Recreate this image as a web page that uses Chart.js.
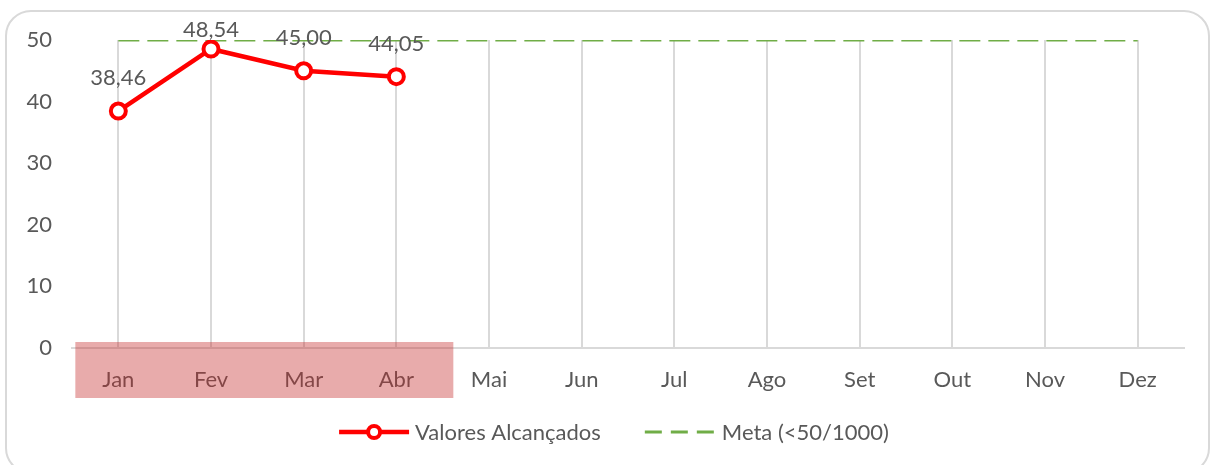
<!DOCTYPE html>
<html>
<head>
<meta charset="utf-8">
<script src="https://cdn.jsdelivr.net/npm/chart.js@4"></script>
<style>
  html, body { margin: 0; padding: 0; background: #fff; }
  #wrap { position: relative; width: 1211px; height: 465px; overflow: hidden; }
  #frame { position: absolute; left: 5px; top: 10px; width: 1201px; height: 460px;
           border: 2px solid #D9D9D9; border-radius: 26px; }
  canvas { position: absolute; left: 0; top: 0; }
</style>
</head>
<body>
<div id="wrap">
  <div id="frame"></div>
  <canvas id="chart" width="1211" height="465"></canvas>
</div>
<script>
// dados do gráfico
const meses = ["Jan", "Fev", "Mar", "Abr", "Mai", "Jun", "Jul", "Ago", "Set", "Out", "Nov", "Dez"];
const valores = [38.46, 48.54, 45.00, 44.05, null, null, null, null, null, null, null, null];
const meta = [50, 50, 50, 50, 50, 50, 50, 50, 50, 50, 50, 50];
const yTicks = [0, 10, 20, 30, 40, 50];
const destaque = ["Jan", "Abr"]; // meses marcados em vermelho

const fonte = "Lato";
const cinza = "#595959";
const tam = 22;

function fmt(v) {
    return v.toFixed(2).replace('.', ',');
}

// rótulos de dados acima dos pontos
const rotulos = {
    id: 'rotulos',
    afterDatasetsDraw(chart) {
        const ctx = chart.ctx;
        const meta0 = chart.getDatasetMeta(0);
        ctx.save();
        ctx.font = tam + "px " + fonte;
        ctx.fillStyle = cinza;
        ctx.textAlign = 'center';
        ctx.textBaseline = 'middle';
        meta0.data.forEach((pt, i) => {
            const v = valores[i];
            if (v === null) return;
            ctx.fillText(fmt(v), pt.x, Math.max(pt.y - 33, 30));
        });
        ctx.restore();
    }
};

// retângulo vermelho sobre os meses
const marca = {
    id: 'marca',
    afterDraw(chart) {
        const x = chart.scales.x;
        const ctx = chart.ctx;
        const a = x.getPixelForValue(meses.indexOf(destaque[0]));
        const b = x.getPixelForValue(meses.indexOf(destaque[1]));
        const bottom = chart.chartArea.bottom;
        ctx.save();
        ctx.fillStyle = 'rgba(197,45,45,0.4)';
        ctx.fillRect(a - 43, bottom - 6, (b + 57) - (a - 43), 56);
        ctx.restore();
    }
};

// legenda desenhada à mão
const legenda = {
    id: 'legenda',
    afterDraw(chart) {
        const ctx = chart.ctx;
        const ds = chart.data.datasets;
        ctx.save();
        ctx.font = tam + "px " + fonte;
        ctx.textBaseline = 'middle';
        const y = 432;
        const w1 = ctx.measureText(ds[0].label).width;
        const w2 = ctx.measureText(ds[1].label).width;
        const total = 70 + 6 + w1 + 44 + 69 + 8 + w2;
        let x = 614 - total / 2;
        // serie 1
        ctx.strokeStyle = ds[0].borderColor;
        ctx.lineWidth = 4.5;
        ctx.beginPath(); ctx.moveTo(x, y); ctx.lineTo(x + 70, y); ctx.stroke();
        ctx.beginPath(); ctx.arc(x + 35, y, 6, 0, Math.PI * 2);
        ctx.fillStyle = '#fff'; ctx.fill();
        ctx.lineWidth = 4; ctx.stroke();
        x += 70 + 6;
        ctx.fillStyle = cinza;
        ctx.fillText(ds[0].label, x, y + 1);
        x += w1 + 44;
        // serie 2
        ctx.strokeStyle = ds[1].borderColor;
        ctx.lineWidth = 3;
        ctx.setLineDash([17, 9]);
        ctx.beginPath(); ctx.moveTo(x, y); ctx.lineTo(x + 69, y); ctx.stroke();
        ctx.setLineDash([]);
        x += 69 + 8;
        ctx.fillText(ds[1].label, x, y + 1);
        ctx.restore();
    }
};

new Chart(document.getElementById('chart'), {
    type: 'line',
    data: {
        labels: meses,
        datasets: [{
            label: 'Valores Alcançados',
            data: valores,
            borderColor: '#FF0000',
            borderWidth: 4.5,
            pointRadius: 7.5,
            pointBorderWidth: 4,
            pointBackgroundColor: '#FFFFFF',
            pointBorderColor: '#FF0000',
            tension: 0,
            order: 0
        }, {
            label: 'Meta (<50/1000)',
            data: meta,
            borderColor: '#70AD47',
            borderWidth: 3,
            borderDash: [21, 8],
            pointRadius: 0,
            tension: 0,
            order: 1
        }]
    },
    options: {
        responsive: false,
        animation: false,
        layout: { padding: { top: 40, right: 27, left: 0, bottom: 0 } },
        plugins: {
            legend: { display: false },
            tooltip: { enabled: false }
        },
        scales: {
            x: {
                offset: true,
                grid: { color: '#D9D9D9', lineWidth: 2, drawTicks: false, offset: false },
                border: { color: '#D9D9D9', width: 2 },
                ticks: { color: cinza, font: { family: fonte, size: tam }, padding: 19, maxRotation: 0 },
                afterFit(s) { s.height = 117; }
            },
            y: {
                min: 0,
                max: 50,
                afterBuildTicks(s) { s.ticks = yTicks.map(v => ({ value: v })); },
                grid: { display: false, drawTicks: false },
                border: { display: false },
                ticks: { color: cinza, font: { family: fonte, size: tam }, padding: 20 },
                afterFit(s) { s.width = 72; }
            }
        }
    },
    plugins: [rotulos, marca, legenda]
});
</script>
</body>
</html>
